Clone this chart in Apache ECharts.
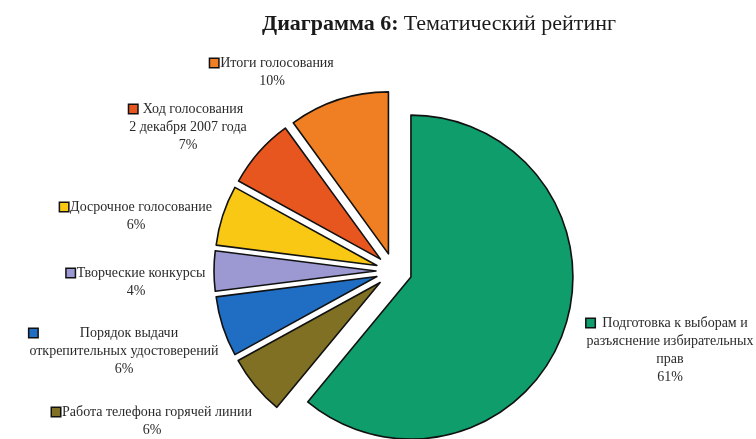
<!DOCTYPE html>
<html>
<head>
<meta charset="utf-8">
<script src="https://cdn.jsdelivr.net/npm/echarts@6/dist/echarts.min.js"></script>
<style>
html,body{margin:0;padding:0;background:#fff;}
#c{width:756px;height:439px;}
</style>
</head>
<body>
<div id="c"></div>
<script>
// ---- data ----
const categories = [
  'Подготовка к выборам и\nразъяснение избирательных\nправ',
  'Работа телефона горячей линии',
  'Порядок выдачи\nоткрепительных удостоверений',
  'Творческие конкурсы',
  'Досрочное голосование',
  'Ход голосования\n2 декабря 2007 года',
  'Итоги голосования'
];
const values = [61, 6, 6, 4, 6, 7, 10];

// ---- styles ----
const colors = ['#0e9d6b', '#7f7024', '#1f6ec4', '#9c98d2', '#f9c814', '#e8561f', '#ef7f22'];
const labelAnchors = [[670, 350], [152, 421], [124, 351], [136, 282], [136, 216], [188, 127], [272, 72]];
const pieCenter = [394, 271];
const pieRadius = 162;

const chart = echarts.init(document.getElementById('c'), null, {renderer: 'canvas'});

const labelFont = '"Liberation Serif", "Times New Roman", serif';

// exploded slices (no labels)
const sliceData = categories.map((name, i) => ({
  name: name,
  value: values[i],
  selected: true,
  itemStyle: {color: colors[i]}
}));

// label carrier (same pie, not exploded, invisible sectors)
const labelData = categories.map((name, i) => ({
  name: name,
  value: values[i],
  label: {rich: {sq: {backgroundColor: colors[i]}}}
}));

chart.setOption({
  backgroundColor: '#ffffff',
  animation: false,
  title: {
    text: '{b|Диаграмма 6:} {n|Тематический рейтинг}',
    left: 257,
    top: 8,
    textStyle: {
      rich: {
        b: {fontFamily: labelFont, fontWeight: 'bold', fontSize: 22, color: '#1a1a1a'},
        n: {fontFamily: labelFont, fontWeight: 'normal', fontSize: 22, color: '#1a1a1a'}
      }
    }
  },
  series: [{
    type: 'pie',
    center: pieCenter,
    radius: pieRadius,
    startAngle: 90,
    clockwise: true,
    selectedMode: 'multiple',
    selectedOffset: 18,
    avoidLabelOverlap: false,
    itemStyle: {borderColor: '#111', borderWidth: 1.6},
    select: {itemStyle: {borderColor: '#111', borderWidth: 1.6}},
    emphasis: {disabled: true},
    label: {show: false},
    labelLine: {show: false},
    data: sliceData
  }, {
    type: 'pie',
    center: pieCenter,
    radius: pieRadius,
    startAngle: 90,
    clockwise: true,
    silent: true,
    selectedMode: false,
    avoidLabelOverlap: false,
    z: 3,
    itemStyle: {color: 'rgba(0,0,0,0)', borderWidth: 0},
    emphasis: {disabled: true},
    labelLine: {show: false},
    label: {
      show: true,
      position: 'outside',
      fontFamily: labelFont,
      fontSize: 14,
      color: '#2a2a2a',
      lineHeight: 18,
      formatter: function (p) {
        const lines = p.name.split('\n');
        let s = '{sq|}{g|}{t|' + lines[0] + '}';
        for (let k = 1; k < lines.length; k++) s += '\n{t|' + lines[k] + '}';
        s += '\n{t|' + p.value + '%}';
        return s;
      },
      rich: {
        sq: {width: 8, height: 8, borderColor: '#111', borderWidth: 1.5, align: 'left'},
        g: {width: 2, align: 'left'},
        t: {fontFamily: labelFont, fontSize: 14, color: '#2a2a2a', lineHeight: 18, align: 'center'}
      }
    },
    labelLayout: function (params) {
      const a = labelAnchors[params.dataIndex];
      return {x: a[0], y: a[1], align: 'center', verticalAlign: 'middle'};
    },
    data: labelData
  }]
});
</script>
</body>
</html>
